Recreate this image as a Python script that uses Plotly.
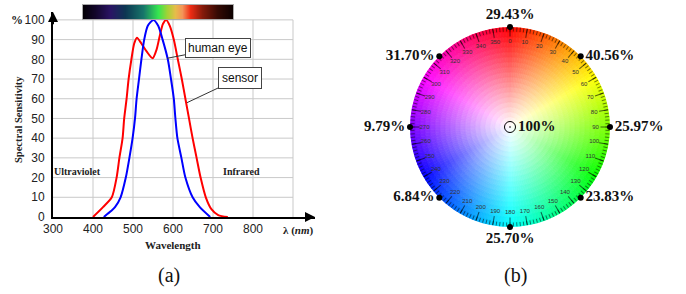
import colorsys
import plotly.graph_objects as go

W, H = 686, 294
SANS = "Liberation Sans, Arial, sans-serif"
SERIF = "Liberation Serif, Times New Roman, serif"

# ---------------- (a) spectral sensitivity ----------------
EYE_WL = [427, 445, 455, 469, 482, 491, 499, 505, 509, 515, 521, 528, 537, 551, 563,
          574, 587, 595, 602, 606, 611, 621, 631, 649, 667, 693]
EYE_VAL = [0, 3, 5, 10, 20, 30, 40, 50, 60, 70, 80, 90, 97, 100, 97,
           90, 80, 70, 60, 50, 40, 30, 20, 10, 5, 0]
SENSOR_WL = [400, 425, 447, 459, 466, 474, 478, 484, 489, 496, 503, 510, 521, 534, 549,
             559, 567, 575, 583, 592, 602, 612, 622, 631, 640, 649, 659, 669, 682, 696,
             713, 737]
SENSOR_VAL = [0, 5, 10, 20, 30, 40, 50, 60, 70, 80, 88, 91, 88, 84, 80.5,
              85, 92, 98, 100, 97, 90, 80, 70, 60, 50, 40, 30, 20, 10, 4,
              1, 0]

X_TICKS = [300, 400, 500, 600, 700, 800]
Y_TICKS = [0, 10, 20, 30, 40, 50, 60, 70, 80, 90, 100]
GRID_X = [400, 500, 600, 700, 800, 900]
GRID_Y = [10, 20, 30, 40, 50, 60, 70, 80, 90, 100]

SPECTRUM_POS = [0, 0.08, 0.18, 0.28, 0.40, 0.50, 0.56, 0.61, 0.66, 0.71, 0.79, 0.89, 1.0]
SPECTRUM_COL = ['#040006', '#12062a', '#2a1464', '#0c3652', '#17766a', '#36e650',
                '#a4d236', '#e6bc4a', '#f49458', '#ee2c14', '#861a0a', '#360a04', '#0a0000']

# ---------------- (b) colour wheel ----------------
WHEEL_TICKS = list(range(0, 360, 10))
MINOR_TICKS = list(range(0, 360, 2))
POINT_ANGLES = [0, 45, 90, 135, 180, 225, 270, 315]
POINT_LABELS = ["29.43%", "40.56%", "25.97%", "23.83%", "25.70%", "6.84%", "9.79%", "31.70%"]
POINT_POS = ["top center", "middle right", "middle right", "middle right",
             "bottom center", "middle left", "middle left", "middle left"]
CENTER_LABEL = "100%"

fig = go.Figure()

# spectrum bar
fig.add_trace(go.Heatmap(
    z=[SPECTRUM_POS, SPECTRUM_POS], x=SPECTRUM_POS, y=[0, 1],
    colorscale=[[p, c] for p, c in zip(SPECTRUM_POS, SPECTRUM_COL)],
    zmin=0, zmax=1, zsmooth='best', showscale=False, hoverinfo='skip',
    xaxis='x2', yaxis='y2'))

fig.add_trace(go.Scatter(x=SENSOR_WL, y=SENSOR_VAL, mode='lines',
                         line=dict(color='#ff0000', width=2, shape='spline', smoothing=0.7),
                         xaxis='x', yaxis='y', cliponaxis=False))
fig.add_trace(go.Scatter(x=EYE_WL, y=EYE_VAL, mode='lines',
                         line=dict(color='#0000ff', width=2, shape='spline', smoothing=0.7),
                         xaxis='x', yaxis='y', cliponaxis=False))

# colour wheel via barpolar (hue by angle, saturation by radius)
ANG_STEP = 2
N_RING = 20
thetas, bases, cols = [], [], []
for i in range(360 // ANG_STEP):
    th = i * ANG_STEP + ANG_STEP / 2
    for j in range(N_RING):
        s = (j + 0.5) / N_RING
        r, g, b = colorsys.hsv_to_rgb(th / 360.0, s, 1.0)
        thetas.append(th)
        bases.append(j / N_RING)
        cols.append('rgb(%d,%d,%d)' % (round(r * 255), round(g * 255), round(b * 255)))
n = len(thetas)
fig.add_trace(go.Barpolar(r=[1 / N_RING] * n, base=bases, theta=thetas, width=[ANG_STEP] * n,
                          marker=dict(color=cols, line=dict(color=cols, width=0.8)),
                          hoverinfo='skip', subplot='polar'))

fig.add_trace(go.Scatterpolar(r=[0.855] * len(WHEEL_TICKS), theta=WHEEL_TICKS,
                              text=[str(t) for t in WHEEL_TICKS], mode='text',
                              textfont=dict(family=SANS, size=6, color='#333333'),
                              subplot='polar2', hoverinfo='skip'))
fig.add_trace(go.Scatterpolar(r=[1] * len(POINT_ANGLES), theta=POINT_ANGLES,
                              text=["<b>" + t + "</b>" for t in POINT_LABELS],
                              textposition=POINT_POS, mode='markers+text',
                              marker=dict(color='black', size=6),
                              textfont=dict(family=SERIF, size=15, color='#111111'),
                              cliponaxis=False, subplot='polar2'))
fig.add_trace(go.Scatterpolar(r=[0], theta=[0], text=["<b>" + CENTER_LABEL + "</b>"],
                              textposition='middle right', mode='markers+text',
                              marker=dict(color='black', size=11, symbol='circle-open-dot',
                                          line=dict(width=1)),
                              textfont=dict(family=SERIF, size=15, color='#111111'),
                              cliponaxis=False, subplot='polar2'))

shapes = []
for gx in GRID_X:
    shapes.append(dict(type='line', xref='x', yref='y', x0=gx, x1=gx, y0=0, y1=100,
                       line=dict(color='#c9c9c9', width=1), layer='below'))
for gy in GRID_Y:
    shapes.append(dict(type='line', xref='x', yref='y', x0=300, x1=900, y0=gy, y1=gy,
                       line=dict(color='#c9c9c9', width=1), layer='below'))


def txt(text, x, y, size, xref='paper', yref='paper', family=SERIF, angle=0, color='#222222'):
    return dict(x=x, y=y, xref=xref, yref=yref, text=text, showarrow=False,
                xanchor='center', yanchor='middle', textangle=angle,
                font=dict(family=family, size=size, color=color))


ann = []
# axis arrows
ann.append(dict(x=300, y=104, ax=300, ay=97, xref='x', yref='y', axref='x', ayref='y',
                showarrow=True, arrowhead=2, arrowsize=1, arrowwidth=2, arrowcolor='black', text=''))
ann.append(dict(x=955, y=0, ax=930, ay=0, xref='x', yref='y', axref='x', ayref='y',
                showarrow=True, arrowhead=2, arrowsize=1, arrowwidth=2, arrowcolor='black', text=''))
# labelled boxes
ann.append(dict(x=585, y=80.5, xref='x', yref='y', ax=51, ay=-10, text='human eye',
                showarrow=True, arrowhead=0, arrowwidth=1, arrowcolor='#333333',
                bgcolor='white', bordercolor='#444444', borderwidth=1, borderpad=2,
                font=dict(family=SANS, size=12, color='#111111')))
ann.append(dict(x=635, y=58, xref='x', yref='y', ax=53, ay=-25, text='sensor',
                showarrow=True, arrowhead=0, arrowwidth=1, arrowcolor='#333333',
                bgcolor='white', bordercolor='#444444', borderwidth=1, borderpad=3,
                font=dict(family=SANS, size=12, color='#111111')))
ann.append(txt('<b>Ultraviolet</b>', 362, 23, 10, xref='x', yref='y'))
ann.append(txt('<b>Infrared</b>', 772, 23, 10, xref='x', yref='y'))
ann.append(txt('<b>Wavelength</b>', 600, (H - 245) / H, 11, xref='x'))
ann.append(txt('<b>λ (<i>nm</i>)</b>', 298 / W, (H - 230) / H, 11))
ann.append(txt('<b>%</b>', 17 / W, (H - 20) / H, 12))
ann.append(txt('<b>Spectral Sensitivity</b>', 18 / W, (H - 120) / H, 10.5, angle=-90))
ann.append(txt('(a)', 169 / W, (H - 275) / H, 20, color='#111111'))
ann.append(txt('(b)', 515 / W, (H - 275) / H, 20, color='#111111'))

polar_dom = dict(x=[410 / W, 610 / W], y=[67 / H, 267 / H])

fig.update_layout(
    width=W, height=H, margin=dict(l=0, r=0, t=0, b=0, pad=0, autoexpand=False),
    paper_bgcolor='white', plot_bgcolor='white', showlegend=False,
    xaxis=dict(domain=[53 / W, 315 / W], range=[300, 955], tickvals=X_TICKS,
               showgrid=False, zeroline=False, showline=True, linewidth=2, linecolor='black',
               ticks='', ticklabelstandoff=0, anchor='y', automargin=False,
               tickfont=dict(family=SANS, size=12, color='#222222')),
    yaxis=dict(domain=[77 / H, 282 / H], range=[0, 104], tickvals=Y_TICKS,
               showgrid=False, zeroline=False, showline=True, linewidth=2, linecolor='black',
               ticks='', ticklabelstandoff=4, anchor='x', automargin=False,
               tickfont=dict(family=SANS, size=12, color='#222222')),
    xaxis2=dict(domain=[83 / W, 233 / W], range=[0, 1], showgrid=False, zeroline=False,
                showticklabels=False, showline=True, mirror=True, linecolor='#aaaaaa',
                linewidth=1, anchor='y2', automargin=False),
    yaxis2=dict(domain=[275 / H, 289 / H], range=[0, 1], showgrid=False, zeroline=False,
                showticklabels=False, showline=True, mirror=True, linecolor='#aaaaaa',
                linewidth=1, anchor='x2', automargin=False),
    polar=dict(domain=polar_dom, bgcolor='white', bargap=0,
               radialaxis=dict(visible=False, range=[0, 1]),
               angularaxis=dict(direction='clockwise', rotation=90, showline=False,
                                showgrid=False, ticks='inside', tickvals=MINOR_TICKS,
                                ticklen=4, tickwidth=0.6, tickcolor='rgba(0,0,0,0.5)',
                                showticklabels=False)),
    polar2=dict(domain=polar_dom, bgcolor='rgba(0,0,0,0)',
                radialaxis=dict(visible=False, range=[0, 1]),
                angularaxis=dict(direction='clockwise', rotation=90, showline=False,
                                 showgrid=False, ticks='inside', tickvals=WHEEL_TICKS,
                                 ticklen=9, tickwidth=0.8, tickcolor='rgba(0,0,0,0.6)',
                                 showticklabels=False)),
    shapes=shapes, annotations=ann,
)

fig.write_html("out.html", config={'displayModeBar': False},
               post_script="document.body.style.margin='0';")
